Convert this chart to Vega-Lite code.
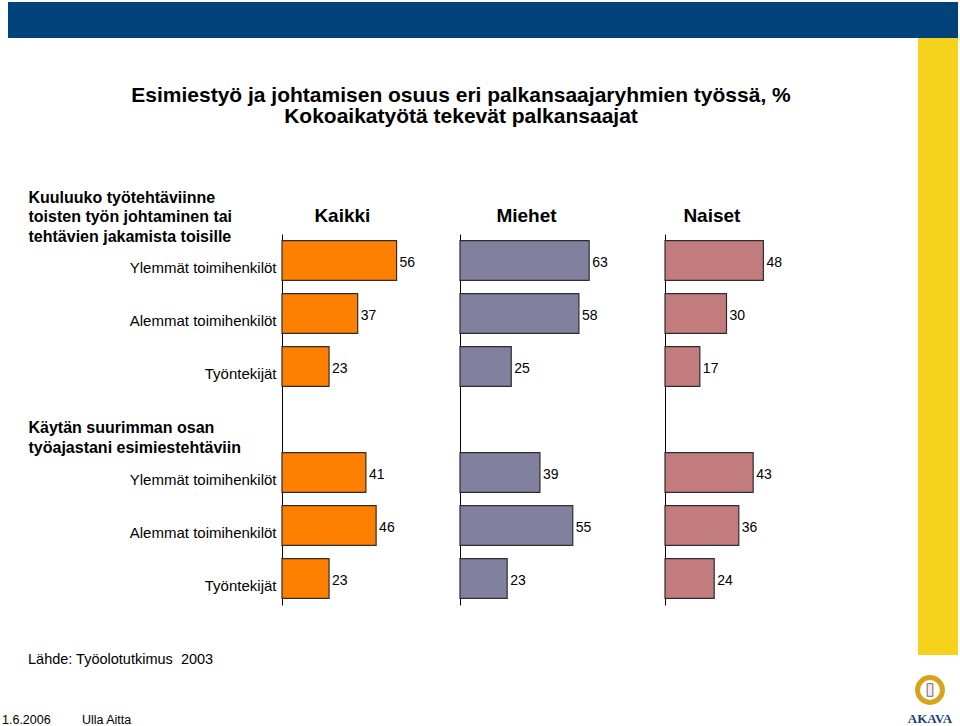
{
  "$schema": "https://vega.github.io/schema/vega-lite/v6.json",
  "background": "white",
  "padding": {"left": 0, "top": 2, "right": 2, "bottom": 0},
  "autosize": {"type": "pad"},
  "spacing": 0,
  "config": {
    "view": {"stroke": null},
    "font": "Liberation Sans",
    "title": {"font": "Liberation Sans", "fontSize": 19, "fontWeight": "bold", "color": "#000000"},
    "axis": {"labelFont": "Liberation Sans", "titleFont": "Liberation Sans", "labelColor": "#000000", "titleColor": "#000000"},
    "text": {"font": "Liberation Sans"}
  },
  "datasets": {
    "arvot": [
      {"ryhma": "Kaikki", "rivi": "1 Ylemmät toimihenkilöt", "arvo": 56},
      {"ryhma": "Kaikki", "rivi": "1 Alemmat toimihenkilöt", "arvo": 37},
      {"ryhma": "Kaikki", "rivi": "1 Työntekijät", "arvo": 23},
      {"ryhma": "Kaikki", "rivi": "2 Ylemmät toimihenkilöt", "arvo": 41},
      {"ryhma": "Kaikki", "rivi": "2 Alemmat toimihenkilöt", "arvo": 46},
      {"ryhma": "Kaikki", "rivi": "2 Työntekijät", "arvo": 23},
      {"ryhma": "Miehet", "rivi": "1 Ylemmät toimihenkilöt", "arvo": 63},
      {"ryhma": "Miehet", "rivi": "1 Alemmat toimihenkilöt", "arvo": 58},
      {"ryhma": "Miehet", "rivi": "1 Työntekijät", "arvo": 25},
      {"ryhma": "Miehet", "rivi": "2 Ylemmät toimihenkilöt", "arvo": 39},
      {"ryhma": "Miehet", "rivi": "2 Alemmat toimihenkilöt", "arvo": 55},
      {"ryhma": "Miehet", "rivi": "2 Työntekijät", "arvo": 23},
      {"ryhma": "Naiset", "rivi": "1 Ylemmät toimihenkilöt", "arvo": 48},
      {"ryhma": "Naiset", "rivi": "1 Alemmat toimihenkilöt", "arvo": 30},
      {"ryhma": "Naiset", "rivi": "1 Työntekijät", "arvo": 17},
      {"ryhma": "Naiset", "rivi": "2 Ylemmät toimihenkilöt", "arvo": 43},
      {"ryhma": "Naiset", "rivi": "2 Alemmat toimihenkilöt", "arvo": 36},
      {"ryhma": "Naiset", "rivi": "2 Työntekijät", "arvo": 24}
    ],
    "tyhja": [{"tyhja": ""}]
  },
  "vconcat": [
    {
      "spacing": 0,
      "hconcat": [
        {"width": 8, "height": 36, "data": {"name": "tyhja"}, "mark": {"type": "text", "text": ""}},
        {"width": 950, "height": 36, "data": {"name": "tyhja"}, "mark": {"type": "text", "text": ""}, "view": {"fill": "#00437b", "stroke": null}}
      ]
    },
    {
      "spacing": 0,
      "hconcat": [
        {
          "spacing": 0,
          "vconcat": [
            {"width": 918, "height": 47, "data": {"name": "tyhja"}, "mark": {"type": "text", "text": ""}},
            {
              "spacing": 0,
              "bounds": "flush",
              "title": {
                "text": ["Esimiestyö ja johtamisen osuus eri palkansaajaryhmien työssä, %", "Kokoaikatyötä tekevät palkansaajat"],
                "fontSize": 21, "fontWeight": "bold", "lineHeight": 21, "anchor": "middle", "dx": 26, "offset": 62, "color": "#000000"
              },
              "hconcat": [
                {
                  "width": 282, "height": 371,
                  "data": {"name": "arvot"},
                  "transform": [{"filter": "datum.ryhma == 'Kaikki'"}],
                  "mark": {"type": "text", "text": ""},
                  "encoding": {
                    "y": {
                      "field": "rivi", "type": "nominal",
                      "scale": {"type": "band", "domain": ["1 Ylemmät toimihenkilöt", "1 Alemmat toimihenkilöt", "1 Työntekijät", "K2", "2 Ylemmät toimihenkilöt", "2 Alemmat toimihenkilöt", "2 Työntekijät"], "paddingInner": 0.25, "paddingOuter": 0.125},
                      "axis": {
                        "orient": "right",
                        "domain": false, "ticks": false, "tickSize": 0, "grid": false,
                        "title": ["Kuuluuko työtehtäviinne", "toisten työn johtaminen tai", "tehtävien jakamista toisille"],
                        "titleAngle": 0, "titleAlign": "left", "titleBaseline": "top", "titleX": -254, "titleY": -45,
                        "titleFontSize": 16, "titleFontWeight": "bold", "titleLineHeight": 19.5, "titleLimit": 400, "titlePadding": 0,
                        "labelExpr": "datum.value == 'K2' ? ['Käytän suurimman osan', 'työajastani esimiestehtäviin'] : slice(datum.value, 2)",
                        "labelAlign": {"condition": {"test": "datum.value == 'K2'", "value": "left"}, "value": "right"},
                        "labelBaseline": {"condition": {"test": "datum.value == 'K2'", "value": "top"}, "value": "middle"},
                        "labelPadding": {"condition": {"test": "datum.value == 'K2'", "value": -254}, "value": -6},
                        "labelOffset": {"condition": {"test": "datum.value == 'K2'", "value": 0}, "value": 7},
                        "labelFontWeight": {"condition": {"test": "datum.value == 'K2'", "value": "bold"}, "value": "normal"},
                        "labelFontSize": {"condition": {"test": "datum.value == 'K2'", "value": 16}, "value": 15},
                        "labelLineHeight": 20,
                        "labelLimit": 400, "labelOverlap": false, "labelBound": false, "labelFlush": false
                      }
                    }
                  }
                },
                {
                  "width": 178, "height": 371,
                  "data": {"name": "arvot"},
                  "transform": [{"filter": "datum.ryhma == 'Kaikki'"}],
                  "title": {"text": "Kaikki", "anchor": "start", "dx": 33, "offset": 8},
                  "encoding": {
                    "y": {"field": "rivi", "type": "nominal", "scale": {"type": "band", "domain": ["1 Ylemmät toimihenkilöt", "1 Alemmat toimihenkilöt", "1 Työntekijät", "K2", "2 Ylemmät toimihenkilöt", "2 Alemmat toimihenkilöt", "2 Työntekijät"], "paddingInner": 0.25, "paddingOuter": 0.125},
                      "axis": {"labels": false, "ticks": false, "tickSize": 0, "domain": true, "domainColor": "#000000", "domainWidth": 1, "title": null, "grid": false}},
                    "x": {"field": "arvo", "type": "quantitative", "scale": {"domain": [0, 87], "nice": false, "zero": true}, "axis": null}
                  },
                  "layer": [
                    {"mark": {"type": "bar", "color": "#ff8000", "stroke": "#2e2e2e", "strokeWidth": 1.2}},
                    {"mark": {"type": "text", "align": "left", "baseline": "middle", "dx": 3, "dy": 2, "fontSize": 14, "color": "#000000"}, "encoding": {"text": {"field": "arvo", "type": "quantitative"}}}
                  ]
                },
                {
                  "width": 205, "height": 371,
                  "data": {"name": "arvot"},
                  "transform": [{"filter": "datum.ryhma == 'Miehet'"}],
                  "title": {"text": "Miehet", "anchor": "start", "dx": 37, "offset": 8},
                  "encoding": {
                    "y": {"field": "rivi", "type": "nominal", "scale": {"type": "band", "domain": ["1 Ylemmät toimihenkilöt", "1 Alemmat toimihenkilöt", "1 Työntekijät", "K2", "2 Ylemmät toimihenkilöt", "2 Alemmat toimihenkilöt", "2 Työntekijät"], "paddingInner": 0.25, "paddingOuter": 0.125},
                      "axis": {"labels": false, "ticks": false, "tickSize": 0, "domain": true, "domainColor": "#000000", "domainWidth": 1, "title": null, "grid": false}},
                    "x": {"field": "arvo", "type": "quantitative", "scale": {"domain": [0, 100], "nice": false, "zero": true}, "axis": null}
                  },
                  "layer": [
                    {"mark": {"type": "bar", "color": "#81809e", "stroke": "#2e2e2e", "strokeWidth": 1.2}},
                    {"mark": {"type": "text", "align": "left", "baseline": "middle", "dx": 3, "dy": 2, "fontSize": 14, "color": "#000000"}, "encoding": {"text": {"field": "arvo", "type": "quantitative"}}}
                  ]
                },
                {
                  "width": 205, "height": 371,
                  "data": {"name": "arvot"},
                  "transform": [{"filter": "datum.ryhma == 'Naiset'"}],
                  "title": {"text": "Naiset", "anchor": "start", "dx": 19, "offset": 8},
                  "encoding": {
                    "y": {"field": "rivi", "type": "nominal", "scale": {"type": "band", "domain": ["1 Ylemmät toimihenkilöt", "1 Alemmat toimihenkilöt", "1 Työntekijät", "K2", "2 Ylemmät toimihenkilöt", "2 Alemmat toimihenkilöt", "2 Työntekijät"], "paddingInner": 0.25, "paddingOuter": 0.125},
                      "axis": {"labels": false, "ticks": false, "tickSize": 0, "domain": true, "domainColor": "#000000", "domainWidth": 1, "title": null, "grid": false}},
                    "x": {"field": "arvo", "type": "quantitative", "scale": {"domain": [0, 100], "nice": false, "zero": true}, "axis": null}
                  },
                  "layer": [
                    {"mark": {"type": "bar", "color": "#c27c7e", "stroke": "#2e2e2e", "strokeWidth": 1.2}},
                    {"mark": {"type": "text", "align": "left", "baseline": "middle", "dx": 3, "dy": 2, "fontSize": 14, "color": "#000000"}, "encoding": {"text": {"field": "arvo", "type": "quantitative"}}}
                  ]
                }
              ]
            },
            {
              "width": 200, "height": 48,
              "data": {"name": "tyhja"},
              "mark": {"type": "text", "text": ""},
              "title": {"text": "Lähde: Työolotutkimus\u00a0 2003", "orient": "bottom", "anchor": "start", "dx": 28, "offset": 0, "fontSize": 14.5, "fontWeight": "normal"}
            }
          ]
        },
        {"width": 40, "height": 617, "data": {"name": "tyhja"}, "mark": {"type": "text", "text": ""}, "view": {"fill": "#f5d21b", "stroke": null}}
      ]
    },
    {
      "spacing": 0,
      "hconcat": [
        {
          "width": 905, "height": 34,
          "data": {"name": "tyhja"},
          "mark": {"type": "text", "text": ""},
          "title": {"text": "1.6.2006\u00a0\u00a0\u00a0\u00a0\u00a0\u00a0\u00a0\u00a0\u00a0Ulla Aitta", "orient": "bottom", "anchor": "start", "dx": 2, "offset": 5, "fontSize": 12.5, "fontWeight": "normal"}
        },
        {
          "width": 50, "height": 30,
          "data": {"values": [{"logo": "AKAVA"}]},
          "title": {"text": "AKAVA", "orient": "bottom", "anchor": "middle", "font": "Liberation Serif", "fontSize": 13, "fontWeight": "bold", "color": "#1b3f7c", "offset": 1},
          "layer": [
            {"mark": {"type": "point", "shape": "circle", "size": 620, "filled": false, "stroke": "#d6a31a", "strokeWidth": 5, "opacity": 1}},
            {"mark": {"type": "point", "shape": "M-0.45,-1L0.45,-1L0.45,1L-0.45,1Z", "size": 160, "filled": true, "fill": "#ececec", "stroke": "#6a6a6a", "strokeWidth": 1, "opacity": 1}}
          ]
        }
      ]
    }
  ]
}
